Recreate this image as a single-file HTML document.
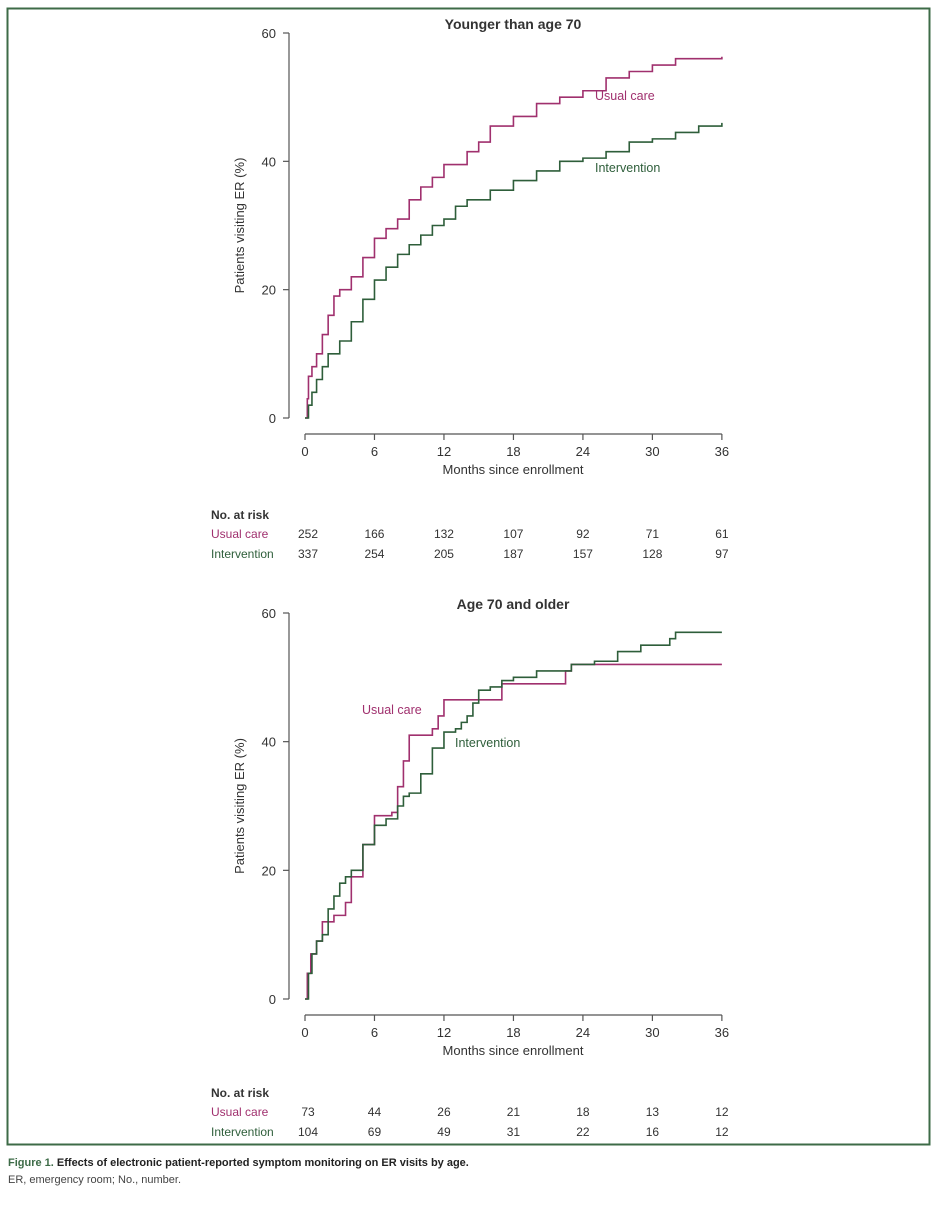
<!DOCTYPE html>
<html><head><meta charset="utf-8"><style>
body{margin:0;background:#fff;width:940px;height:1200px;overflow:hidden;font-family:"Liberation Sans",sans-serif}
svg text{font-family:"Liberation Sans",sans-serif}
</style></head><body>
<svg width="940" height="1200">
<rect x="7.5" y="8.5" width="922" height="1136" fill="none" stroke="#3d6b47" stroke-width="2"/>
<g id="top"></g>
<g id="bot"></g>
<text x="8" y="1166" font-size="11" font-weight="bold" fill="#222"><tspan fill="#3d6b47">Figure 1.</tspan> Effects of electronic patient-reported symptom monitoring on ER visits by age.</text>
<text x="8" y="1183" font-size="11" fill="#444">ER, emergency room; No., number.</text>
</svg>
<script>
const xTicks=[0,6,12,18,24,30,36];
const yTicks=[0,20,40,60];
const topUsualX=[0,0.2,0.3,0.6,1,1.5,2,2.5,3,4,5,6,7,8,9,10,11,12,14,15,16,18,20,22,24,26,28,30,32,36];
const topUsualY=[0,3,6.5,8,10,13,16,19,20,22,25,28,29.5,31,34,36,37.5,39.5,41.5,43,45.5,47,49,50,51,53,54,55,56,56.3];
const topIntX=[0,0.3,0.6,1,1.5,2,3,4,5,6,7,8,9,10,11,12,13,14,16,18,20,22,24,26,28,30,32,34,36];
const topIntY=[0,2,4,6,8,10,12,15,18.5,21.5,23.5,25.5,27,28.5,30,31,33,34,35.5,37,38.5,40,40.5,41.5,43,43.5,44.5,45.5,46];
const botUsualX=[0,0.2,0.5,1,1.5,2.5,3.5,4,5,6,7.5,8,8.5,9,11,11.5,12,15,17,22,22.5,23,36];
const botUsualY=[0,4,7,9,12,13,15,19,24,28.5,29,33,37,41,42,44,46.5,46.5,49,49,51,52,52];
const botIntX=[0,0.3,0.6,1,1.5,2,2.5,3,3.5,4,5,6,7,8,8.5,9,10,11,12,13,13.5,14,14.5,15,16,17,18,20,23,25,27,29,31.5,32,36];
const botIntY=[0,4,7,9,10,14,16,18,19,20,24,27,28,30,31.5,32,35,39,41.5,42,43,44,46,48,48.5,49.5,50,51,52,52.5,54,55,56,57,57];
const riskTopUsual=[252,166,132,107,92,71,61];
const riskTopInt=[337,254,205,187,157,128,97];
const riskBotUsual=[73,44,26,21,18,13,12];
const riskBotInt=[104,69,49,31,22,16,12];
const NS='http://www.w3.org/2000/svg';
const PINK='#a0306e',GREEN='#2e5e3a',AX='#555';
function mk(p,tag,at,txt){const e=document.createElementNS(NS,tag);for(const k in at)e.setAttribute(k,at[k]);if(txt!==undefined)e.textContent=txt;p.appendChild(e);return e;}
function chart(g,y0,y60,title,ux,uy,ix,iy,lab,rU,rI,riskY){
 const sx=m=>305+m*11.58, sy=v=>y0+(y60-y0)*v/60;
 let t=mk(g,'text',{x:513,y:y60-4,'text-anchor':'middle','font-size':14,'font-weight':'bold',fill:'#333'},title);
 
 
 let a=mk(g,'line',{x1:289,x2:289,y1:y60,y2:y0,stroke:AX,'stroke-width':1.2});
 
 
 yTicks.forEach(v=>{mk(g,'line',{x1:283,x2:289,y1:sy(v),y2:sy(v),stroke:AX,'stroke-width':1.2});
  let l=mk(g,'text',{x:276,y:sy(v)+5,'text-anchor':'end','font-size':13,fill:'#333'},v);
  
  });
 const xa=y0+16;
 let b=mk(g,'line',{x1:sx(0),x2:sx(36),y1:xa,y2:xa,stroke:AX,'stroke-width':1.2});
 
 
 xTicks.forEach(v=>{mk(g,'line',{x1:sx(v),x2:sx(v),y1:xa,y2:xa+6,stroke:AX,'stroke-width':1.2});
  let l=mk(g,'text',{x:sx(v),y:xa+22,'text-anchor':'middle','font-size':13,fill:'#333'},v);
  
  });
 let xt=mk(g,'text',{x:513,y:xa+40,'text-anchor':'middle','font-size':13,fill:'#333'},'Months since enrollment');
 
 
 const yc=(y0+y60)/2;
 let yt=mk(g,'text',{x:244,y:yc,'text-anchor':'middle','font-size':13,fill:'#333',transform:`rotate(-90 244 ${yc})`},'Patients visiting ER (%)');
 
 
 function step(xs,ys,col,name){let d='M'+sx(xs[0])+','+sy(ys[0]);for(let i=1;i<xs.length;i++){d+='H'+sx(xs[i])+'V'+sy(ys[i]);}
  let p=mk(g,'path',{d:d,fill:'none',stroke:col,'stroke-width':1.6});
  
  }
 step(ux,uy,PINK,'usual-care-line');step(ix,iy,GREEN,'intervention-line');
 let l1=mk(g,'text',{x:lab[0],y:lab[1],'font-size':12.5,fill:PINK},'Usual care');
 
 
 let l2=mk(g,'text',{x:lab[2],y:lab[3],'font-size':12.5,fill:GREEN},'Intervention');
 
 
 let rh=mk(g,'text',{x:211,y:riskY,'font-size':12,'font-weight':'bold',fill:'#333'},'No. at risk');
 
 
 [[rU,'Usual care',PINK],[rI,'Intervention',GREEN]].forEach((r,k)=>{const yy=riskY+19+k*20;
  let n=mk(g,'text',{x:211,y:yy,'font-size':12,fill:r[2]},r[1]);
  
  
  r[0].forEach((v,i)=>{let c=mk(g,'text',{x:sx(xTicks[i])+(i==0?3:0),y:yy,'text-anchor':'middle','font-size':12,fill:'#333'},v);
   
   });});
}
chart(document.getElementById('top'),418,33,'Younger than age 70',topUsualX,topUsualY,topIntX,topIntY,[595,100,595,172],riskTopUsual,riskTopInt,519);
chart(document.getElementById('bot'),999,613,'Age 70 and older',botUsualX,botUsualY,botIntX,botIntY,[362,714,455,747],riskBotUsual,riskBotInt,1097);
</script>
</body></html>
